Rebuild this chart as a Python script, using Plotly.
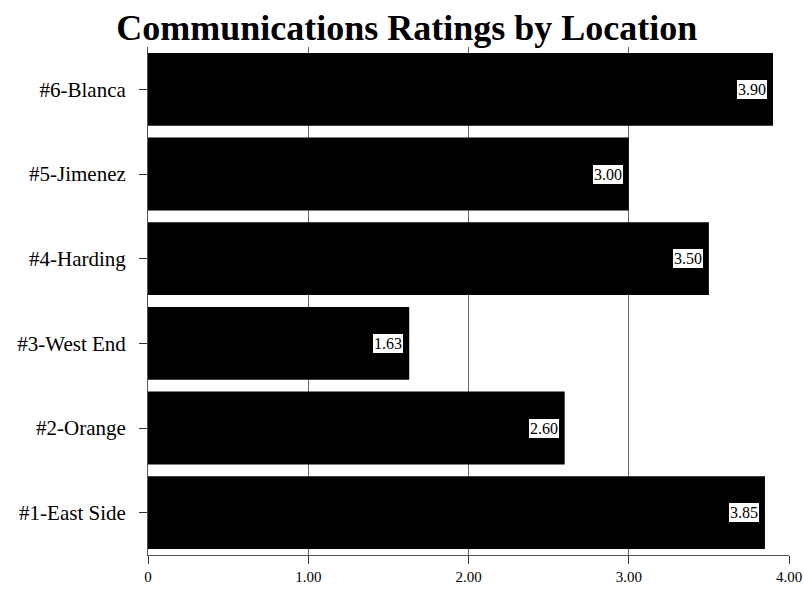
import plotly.graph_objects as go

categories = ["#1-East Side", "#2-Orange", "#3-West End", "#4-Harding", "#5-Jimenez", "#6-Blanca"]
values = [3.85, 2.60, 1.63, 3.50, 3.00, 3.90]
labels = ["3.85", "2.60", "1.63", "3.50", "3.00", "3.90"]
tick_vals = [0, 1, 2, 3, 4]
tick_text = ["0", "1.00", "2.00", "3.00", "4.00"]

font_family = "Liberation Serif"

fig = go.Figure()
fig.add_trace(go.Bar(
    x=values, y=categories, orientation="h",
    marker=dict(color="black", line=dict(width=0)),
    hoverinfo="skip",
))

for v, c, t in zip(values, categories, labels):
    fig.add_annotation(
        x=v, y=c, text=t, showarrow=False, xanchor="right", xshift=-5,
        font=dict(family=font_family, size=16, color="black"),
        bgcolor="white", bordercolor="black", borderwidth=1, borderpad=1,
    )

fig.update_layout(
    width=804, height=590,
    margin=dict(l=148, r=15, t=47, b=35, autoexpand=False),
    paper_bgcolor="white", plot_bgcolor="white",
    bargap=0.14,
    showlegend=False,
    title=dict(text="<b>Communications Ratings by Location</b>", x=0.506, xanchor="center",
               y=0.953, yanchor="middle", automargin=False,
               font=dict(family=font_family, size=36, color="black")),
    xaxis=dict(range=[0, 4], tickvals=tick_vals, ticktext=tick_text, automargin=False,
               showgrid=True, gridcolor="#666666", gridwidth=1,
               showline=True, linecolor="#555555", linewidth=1,
               ticks="outside", ticklen=8, tickcolor="#333333",
               zeroline=False,
               tickfont=dict(family=font_family, size=15, color="black")),
    yaxis=dict(categoryorder="array", categoryarray=categories, automargin=False,
               showgrid=False, showline=True, linecolor="#555555", linewidth=1,
               ticks="outside", ticklen=8, tickcolor="#333333",
               ticklabelstandoff=9,
               tickfont=dict(family=font_family, size=21, color="black")),
)

fig.write_html("out.html", config={"displayModeBar": False},
               post_script="document.body.style.margin='0';document.body.style.padding='0';")
